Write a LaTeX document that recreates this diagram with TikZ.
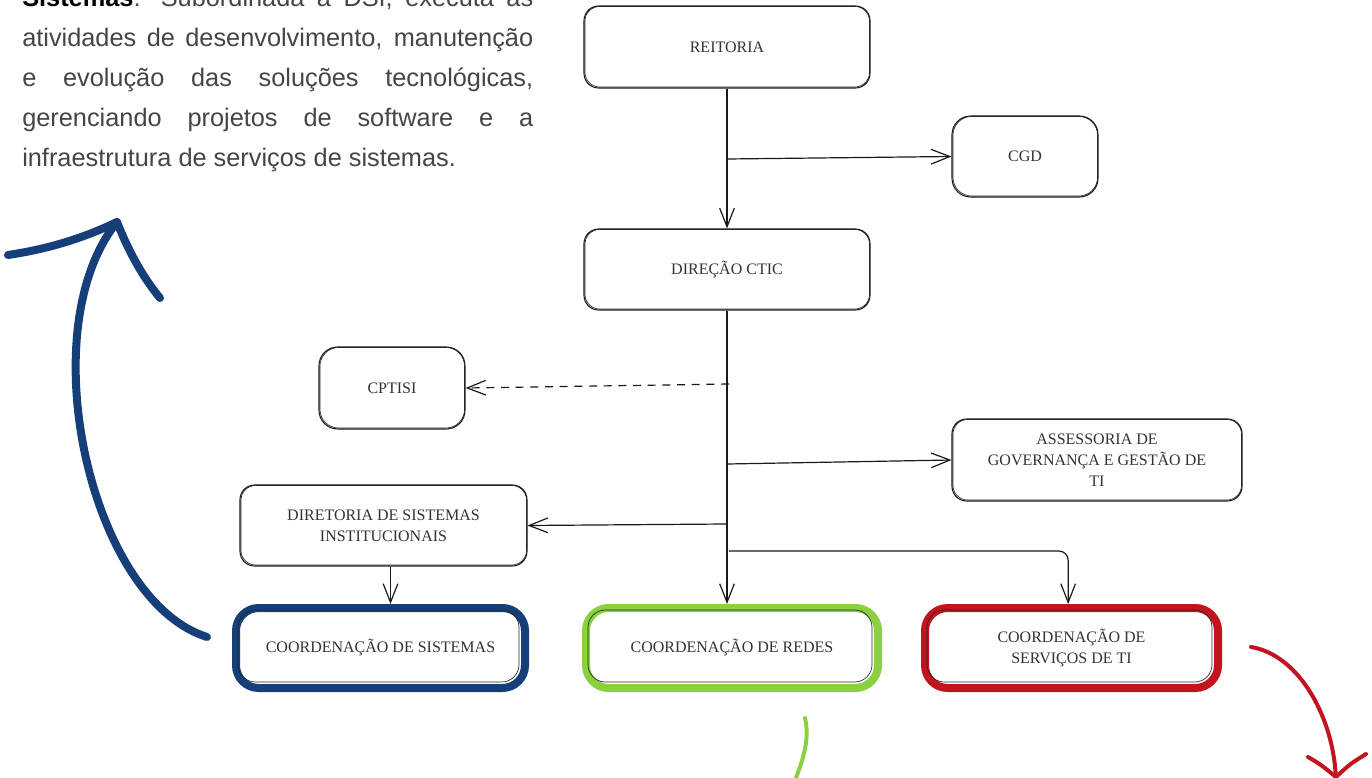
\documentclass[tikz,border=0pt]{standalone}
\usepackage{fontspec}
\setmainfont{Liberation Serif}
\newfontfamily\bodyfont{Liberation Sans}
\usetikzlibrary{arrows.meta}
\definecolor{cblue}{HTML}{163F7A}
\definecolor{cgreen}{HTML}{8BD13F}
\definecolor{cred}{HTML}{C1141F}
\definecolor{txtgray}{HTML}{454545}
\definecolor{boxtxt}{HTML}{333333}
\begin{document}
\begin{tikzpicture}[x=0.75pt,y=-0.75pt,
  boxfont/.style={font=\fontsize{12pt}{15.75pt}\selectfont},
  box/.style={draw=black!90, line width=0.8pt, rounded corners=11pt, fill=white,
    text=boxtxt, boxfont, align=center, inner sep=0pt},
  cbox/.style={draw=#1, line width=6pt, rounded corners=17pt, fill=white,
    text=boxtxt, boxfont, align=center, inner sep=0pt},
  sketch/.style={draw=black!85, line width=0.5pt, rounded corners=11pt},
  conn/.style={line width=0.9pt, draw=black!90, -{Straight Barb[length=14pt,width=11pt]}},
  deco/.style={line width=#1, line cap=round, line join=round},
]
\useasboundingbox (0,0) rectangle (1372,778);

% description text
\node[anchor=north west, text width=383.25pt, inner sep=0pt, align=justify,
  font=\bodyfont\fontsize{19pt}{30pt}\selectfont, text=txtgray] (desc) at (22,-12)
  {\hyphenpenalty=10000\exhyphenpenalty=10000
   {\color{black}\textbf{Sistemas}}: Subordinada à DSI, executa as\linebreak
   atividades de desenvolvimento, manutenção\linebreak
   e evolução das soluções tecnológicas,\linebreak
   gerenciando projetos de software e a\linebreak
   infraestrutura de serviços de sistemas.};

% boxes
\node[box, minimum width=214.5pt, minimum height=61.5pt] (reitoria) at (727,47) {REITORIA};
\node[box, rounded corners=14pt, minimum width=109.5pt, minimum height=60.75pt] (cgd) at (1025,156.5) {CGD};
\node[box, minimum width=214.5pt, minimum height=60.75pt] (direcao) at (727,269.5) {DIREÇÃO CTIC};
\node[box, rounded corners=14pt, minimum width=109.5pt, minimum height=61.5pt] (cptisi) at (392,388) {CPTISI};
\node[box, minimum width=217.5pt, minimum height=61.5pt] (assess) at (1097,460) {ASSESSORIA DE\\GOVERNANÇA E GESTÃO DE\\TI};
\node[box, minimum width=215.25pt, minimum height=60.75pt] (dsi) at (383.5,525.5) {DIRETORIA DE SISTEMAS\\INSTITUCIONAIS};

\node[cbox=cblue, minimum width=216.75pt, minimum height=60pt] (csis) at (380.5,648) {COORDENAÇÃO DE SISTEMAS};
\node[cbox=cgreen, minimum width=219pt, minimum height=60pt] (credes) at (732,648) {COORDENAÇÃO DE REDES};
\node[cbox=cred, minimum width=219.75pt, minimum height=60pt] (cserv) at (1071.5,648) {COORDENAÇÃO DE\\SERVIÇOS DE TI};

% sketchy second outlines
\foreach \n in {reitoria,direcao,assess,dsi}{
  \draw[sketch] ([shift={(1.5,1)}]\n.north west) rectangle ([shift={(-1,-1.5)}]\n.south east);
}
\foreach \n in {cgd,cptisi}{
  \draw[sketch, rounded corners=14pt] ([shift={(1.5,1)}]\n.north west) rectangle ([shift={(-1,-1.5)}]\n.south east);
}
\foreach \n in {csis,credes,cserv}{
  \draw[sketch, rounded corners=13pt] ([shift={(6,6)}]\n.north west) rectangle ([shift={(-10,-10)}]\n.south east);
}

% junction coordinates on the trunk
\coordinate (j1) at (727,159);
\coordinate (j2) at (729,384);
\coordinate (j3) at (727,464);
\coordinate (j4) at (726,524);
\coordinate (j5) at (729,551);

% connectors
\draw[conn] (reitoria) -- (direcao);
\draw[conn] (j1) -- (cgd.west);
\draw[conn] (direcao.south) -- (direcao.south |- credes.north);
\draw[conn, dashed, dash pattern=on 6pt off 5pt] (j2) -- (cptisi.east);
\draw[conn] (j3) -- (assess.west);
\draw[conn] (j4) -- (dsi.east);
\draw[conn, rounded corners=7pt] (j5) -| ([xshift=-2.5pt]cserv.north);
\draw[conn] ([xshift=5.25pt]dsi.south) -- ([xshift=5.25pt]dsi.south |- csis.north);

% decorative hand-drawn arrows
\draw[deco=6pt, cblue] (207,637) .. controls (90,600) and (30,330) .. (117,222);
\draw[deco=6pt, cblue] (8,255) .. controls (55,248) and (90,235) .. (117,222)
  .. controls (130,255) and (145,280) .. (160,298);
\draw[deco=3pt, cgreen] (805,718) .. controls (810,740) and (803,760) .. (793,786);
\draw[deco=3pt, cred] (1251,647) .. controls (1300,655) and (1335,720) .. (1336,782);
\draw[deco=3pt, cred] (1308,757) .. controls (1320,764) .. (1336,777) .. controls (1350,764) .. (1366,754);
\end{tikzpicture}
\end{document}
